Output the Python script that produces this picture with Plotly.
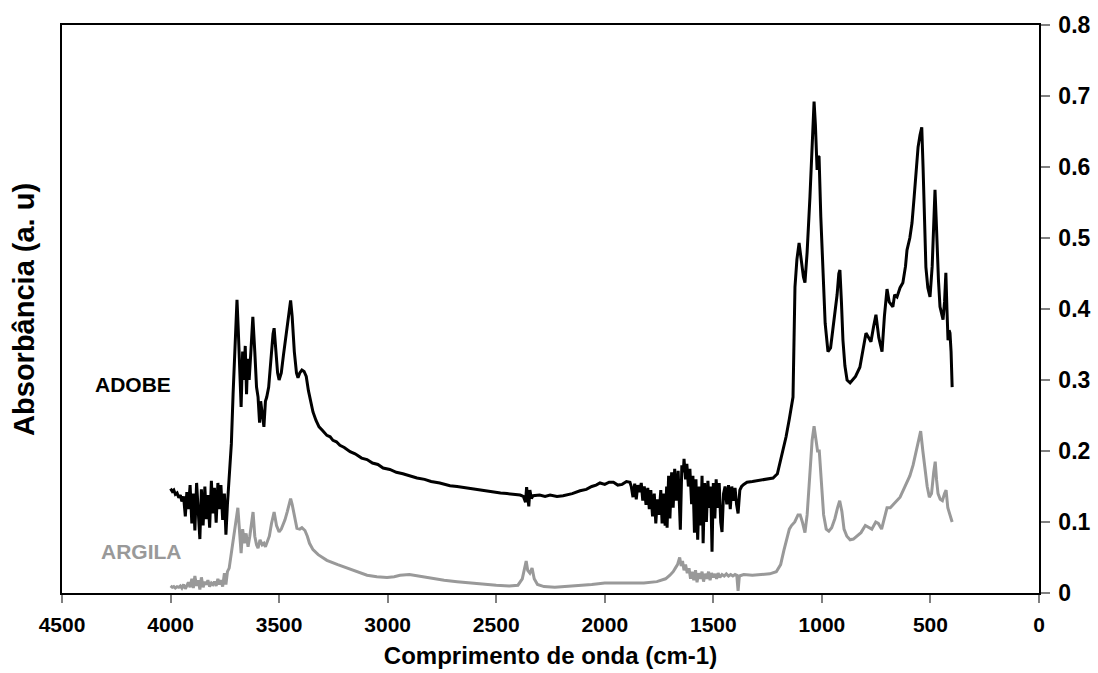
import plotly.graph_objects as go

# FTIR spectra: ADOBE (black) and ARGILA (grey), wavenumber in cm-1
adobe_wn = [
    4000, 3992, 3985, 3978, 3970, 3962, 3955, 3948, 3940, 3932, 3925, 3918, 3910, 3902,
    3895, 3888, 3880, 3872, 3865, 3858, 3850, 3842, 3835, 3828, 3820, 3812, 3805, 3798,
    3790, 3782, 3775, 3768, 3760, 3752, 3745, 3738,
    3730, 3720, 3712, 3705, 3698, 3694, 3688, 3680, 3675, 3668, 3662, 3656, 3650, 3645,
    3638, 3630, 3621, 3612, 3604, 3597, 3590, 3585, 3578, 3570, 3563, 3557, 3548, 3538,
    3528, 3523, 3515, 3507, 3500, 3490, 3480, 3473, 3462, 3452, 3447, 3440, 3430, 3420,
    3413, 3405, 3395, 3385, 3375, 3365, 3355, 3344, 3330, 3316, 3300, 3280, 3265, 3252,
    3236, 3220, 3200, 3173, 3150, 3120, 3095, 3070, 3045, 3021, 2990, 2960, 2930, 2900,
    2865, 2830, 2800, 2760, 2713, 2680, 2640, 2600, 2561, 2520, 2480, 2450, 2420, 2390,
    2375, 2365, 2360, 2355, 2350, 2345, 2338, 2330, 2300, 2275, 2252, 2220, 2192, 2150,
    2114, 2085, 2060, 2040, 2022, 2000, 1980, 1960, 1940, 1920, 1900, 1884,
    1878, 1870, 1862, 1855, 1848, 1840, 1832, 1825, 1818, 1810, 1802, 1795, 1788, 1780,
    1772, 1765, 1758, 1750, 1742, 1736, 1730, 1722, 1715, 1713, 1706, 1700, 1692, 1685,
    1678, 1670, 1662, 1652, 1645, 1638, 1635, 1628, 1622, 1615, 1608, 1600, 1594, 1587,
    1580, 1572, 1565, 1558, 1552, 1547, 1540, 1532, 1525, 1518, 1512, 1506, 1500, 1493,
    1487, 1480, 1473, 1466, 1460, 1453, 1446, 1438, 1430, 1422, 1415, 1408, 1400, 1393,
    1386, 1378, 1370, 1360, 1345, 1320, 1300, 1280, 1260, 1240, 1225, 1205, 1193, 1180,
    1165, 1150, 1140,
    1133, 1124, 1115, 1105, 1095, 1085, 1078, 1068, 1055, 1045, 1036, 1030, 1022, 1017,
    1013, 1005, 995, 985, 972, 960, 950, 940, 930, 922, 917, 910, 903, 894, 884, 870,
    857, 845, 825, 810, 797, 785, 774, 762, 751, 738, 723, 712, 700, 690, 680, 673, 665,
    654, 640, 627, 615, 608, 595, 585, 575, 565, 557, 548, 540, 534, 528, 521, 512, 502,
    492, 485, 479, 474, 470, 463, 456, 448, 442, 435, 429, 424, 419, 414, 410, 405, 400,
]
adobe_abs = [
    0.147, 0.143, 0.145, 0.139, 0.141, 0.134, 0.138, 0.129, 0.136, 0.108, 0.142, 0.118, 0.152, 0.098,
    0.140, 0.088, 0.155, 0.112, 0.076, 0.146, 0.095, 0.150, 0.104, 0.138, 0.092, 0.158, 0.112, 0.148,
    0.099, 0.155, 0.118, 0.152, 0.103, 0.140, 0.082, 0.125,
    0.170, 0.210, 0.280, 0.340, 0.400, 0.413, 0.370, 0.300, 0.262, 0.340, 0.300, 0.348, 0.280, 0.330,
    0.300, 0.340, 0.389, 0.340, 0.290, 0.276, 0.240, 0.270, 0.250, 0.234, 0.270, 0.276, 0.290, 0.330,
    0.365, 0.373, 0.340, 0.310, 0.300, 0.310, 0.335, 0.353, 0.375, 0.405, 0.412, 0.390, 0.340, 0.310,
    0.303, 0.310, 0.314, 0.312, 0.305, 0.285, 0.268, 0.255, 0.243, 0.234, 0.229, 0.222, 0.220, 0.215,
    0.213, 0.208, 0.205, 0.199, 0.196, 0.190, 0.188, 0.183, 0.181, 0.176, 0.174, 0.170, 0.168, 0.165,
    0.162, 0.160, 0.157, 0.155, 0.151, 0.150, 0.148, 0.146, 0.144, 0.143, 0.141, 0.140, 0.139, 0.138,
    0.136, 0.128, 0.149, 0.131, 0.122, 0.145, 0.133, 0.137, 0.138, 0.136, 0.138, 0.136, 0.137, 0.140,
    0.144, 0.146, 0.150, 0.152, 0.155, 0.153, 0.156, 0.156, 0.152, 0.153, 0.157, 0.156,
    0.150, 0.135, 0.154, 0.132, 0.152, 0.142, 0.155, 0.130, 0.150, 0.124, 0.148, 0.118, 0.145, 0.108,
    0.140, 0.098, 0.132, 0.110, 0.145, 0.098, 0.140, 0.095, 0.150, 0.092, 0.165, 0.105, 0.170, 0.120,
    0.175, 0.130, 0.172, 0.089, 0.180, 0.170, 0.189, 0.160, 0.182, 0.150, 0.175, 0.125, 0.165, 0.085,
    0.160, 0.075, 0.150, 0.095, 0.165, 0.070, 0.155, 0.100, 0.158, 0.120, 0.150, 0.058, 0.155, 0.105,
    0.160, 0.120, 0.155, 0.100, 0.086, 0.140, 0.150, 0.125, 0.152, 0.118, 0.150, 0.130, 0.148, 0.125,
    0.112, 0.145, 0.150, 0.153, 0.156, 0.157, 0.158, 0.159, 0.160, 0.161, 0.162, 0.168, 0.183, 0.200,
    0.220, 0.245, 0.265,
    0.276, 0.431, 0.470, 0.493, 0.470, 0.445, 0.437, 0.480, 0.558, 0.640, 0.692, 0.660, 0.596, 0.615,
    0.614, 0.530, 0.440, 0.380, 0.340, 0.345, 0.370, 0.394, 0.420, 0.450, 0.455, 0.410, 0.356, 0.320, 0.300, 0.296,
    0.300, 0.305, 0.318, 0.345, 0.366, 0.360, 0.354, 0.375, 0.392, 0.360, 0.340, 0.390, 0.428, 0.410, 0.405, 0.403, 0.420,
    0.417, 0.430, 0.437, 0.460, 0.483, 0.500, 0.521, 0.558, 0.600, 0.628, 0.645, 0.656, 0.600, 0.520, 0.459, 0.430, 0.417,
    0.460, 0.530, 0.568, 0.530, 0.488, 0.440, 0.403, 0.390, 0.385, 0.410, 0.451, 0.400, 0.356, 0.370, 0.366, 0.340, 0.290,
]

argila_wn = [
    4000, 3992, 3985, 3978, 3970, 3962, 3955, 3948, 3940, 3932, 3925, 3918, 3910, 3902,
    3895, 3888, 3880, 3872, 3865, 3858, 3850, 3842, 3835, 3828, 3820, 3812, 3805, 3798,
    3790, 3782, 3775, 3768, 3760, 3752, 3745, 3738,
    3730, 3720, 3710, 3700, 3690, 3683, 3675, 3668, 3660, 3652, 3643, 3635, 3628, 3620,
    3612, 3604, 3597, 3588, 3578, 3570, 3563, 3556, 3545, 3535, 3523, 3512, 3500, 3490,
    3480, 3473, 3462, 3452, 3447, 3440, 3430, 3418, 3405, 3395, 3381, 3370, 3360, 3344,
    3320, 3280, 3230, 3187, 3140, 3095, 3050, 3003, 2970, 2943, 2900, 2860, 2800, 2740,
    2680, 2620, 2560, 2500, 2440, 2400, 2380, 2370, 2362, 2355, 2345, 2335, 2325, 2310,
    2280, 2230, 2180, 2120, 2060, 2000, 1940, 1880, 1820, 1760, 1720, 1700, 1685, 1675,
    1665, 1655, 1648, 1642, 1635, 1628, 1620, 1612, 1605, 1598, 1590, 1582, 1575, 1568,
    1560, 1552, 1545, 1538, 1530, 1522, 1515, 1508, 1500, 1492, 1485, 1478, 1470, 1460,
    1450, 1440, 1430, 1420, 1410, 1400, 1392, 1386, 1380, 1360, 1320, 1280, 1240, 1210,
    1190, 1175, 1160, 1150, 1140, 1125, 1110, 1100, 1090, 1078, 1068, 1055, 1045, 1036,
    1028, 1020, 1012, 1002, 992, 980, 968, 955, 940, 928, 918, 908, 898, 885, 870, 855,
    840, 820, 800, 785, 770, 752, 740, 725, 712, 700, 685, 670, 655, 640, 625, 610, 595,
    580, 565, 552, 545, 535, 525, 515, 505, 495, 485, 478, 472, 465, 455, 445, 435, 428,
    420, 412, 405, 400,
]
argila_abs = [
    0.010, 0.008, 0.009, 0.007, 0.009, 0.008, 0.010, 0.007, 0.012, 0.006, 0.010, 0.015, 0.008, 0.020,
    0.007, 0.024, 0.010, 0.018, 0.005, 0.022, 0.008, 0.016, 0.012, 0.018, 0.009, 0.014, 0.012, 0.016,
    0.010, 0.020, 0.012, 0.018, 0.009, 0.028, 0.012, 0.030,
    0.035, 0.055, 0.075, 0.100, 0.120, 0.090, 0.056, 0.090, 0.070, 0.084, 0.065, 0.080, 0.095, 0.114,
    0.080, 0.068, 0.063, 0.075, 0.068, 0.070, 0.065, 0.072, 0.080, 0.098, 0.114, 0.095, 0.086, 0.090,
    0.098, 0.103, 0.115, 0.128, 0.133, 0.125, 0.110, 0.091, 0.090, 0.092, 0.088, 0.080, 0.070, 0.061,
    0.054, 0.046, 0.040, 0.035, 0.030, 0.025, 0.023, 0.022, 0.023, 0.025, 0.026, 0.024, 0.020, 0.018,
    0.016, 0.014, 0.012, 0.011, 0.010, 0.011, 0.020, 0.035, 0.045, 0.032, 0.028, 0.035, 0.020, 0.012,
    0.009, 0.008, 0.009, 0.010, 0.012, 0.014, 0.014, 0.013, 0.014, 0.016, 0.020, 0.025, 0.030, 0.035,
    0.040, 0.050, 0.038, 0.045, 0.032, 0.040, 0.028, 0.035, 0.020, 0.030, 0.018, 0.032, 0.015, 0.028,
    0.020, 0.030, 0.016, 0.027, 0.020, 0.030, 0.018, 0.028, 0.022, 0.027, 0.020, 0.028, 0.022, 0.026,
    0.024, 0.027, 0.024, 0.026, 0.024, 0.026, 0.025, 0.003, 0.024, 0.026, 0.025, 0.026, 0.027, 0.030,
    0.040, 0.060, 0.080, 0.090, 0.095, 0.100, 0.110, 0.110, 0.100, 0.085, 0.110, 0.170, 0.215, 0.235,
    0.220, 0.200, 0.200, 0.160, 0.110, 0.090, 0.087, 0.092, 0.105, 0.120, 0.130, 0.115, 0.090, 0.080, 0.075, 0.076,
    0.080, 0.085, 0.095, 0.093, 0.090, 0.100, 0.098, 0.090, 0.105, 0.120, 0.120, 0.125, 0.130, 0.135, 0.145, 0.155, 0.165,
    0.180, 0.200, 0.222, 0.228, 0.200, 0.170, 0.150, 0.135, 0.140, 0.170, 0.185, 0.160, 0.140, 0.132, 0.130, 0.140, 0.145,
    0.120, 0.110, 0.105, 0.100,
]

x_ticks = [4500, 4000, 3500, 3000, 2500, 2000, 1500, 1000, 500, 0]
y_ticks = [0, 0.1, 0.2, 0.3, 0.4, 0.5, 0.6, 0.7, 0.8]

FONT = "Liberation Sans, Arial, sans-serif"

fig = go.Figure()
fig.add_trace(go.Scatter(x=argila_wn, y=argila_abs, mode="lines", name="ARGILA",
                         line=dict(color="#999999", width=3)))
fig.add_trace(go.Scatter(x=adobe_wn, y=adobe_abs, mode="lines", name="ADOBE",
                         line=dict(color="#000000", width=3)))

fig.add_annotation(x=4173, y=0.293, text="<b>ADOBE</b>", showarrow=False,
                   font=dict(family=FONT, size=21, color="#000000"))
fig.add_annotation(x=4136, y=0.059, text="<b>ARGILA</b>", showarrow=False,
                   font=dict(family=FONT, size=21, color="#999999"))
fig.add_annotation(xref="paper", yref="paper", x=-0.039, y=0.5, xanchor="center",
                   yanchor="middle", textangle=-90, showarrow=False,
                   text="<b>Absorbância (a. u)</b>",
                   font=dict(family=FONT, size=29, color="#000000"))

fig.update_layout(
    width=1098, height=673,
    margin=dict(l=62, r=59, t=25, b=80),
    paper_bgcolor="white", plot_bgcolor="white",
    showlegend=False,
    font=dict(family=FONT, color="#000000"),
)
fig.update_xaxes(
    range=[4500, 0], tickvals=x_ticks, ticktext=[f"<b>{v}</b>" for v in x_ticks],
    tickfont=dict(family=FONT, size=21, color="#000000"),
    ticks="outside", ticklen=8, tickcolor="#808080", tickwidth=1.5,
    ticklabelstandoff=4, automargin=False,
    showline=True, linecolor="#000000", linewidth=2, mirror=True,
    showgrid=False, zeroline=False,
    title=dict(text="<b>Comprimento de onda (cm-1)</b>",
               font=dict(family=FONT, size=24, color="#000000"), standoff=12),
)
fig.update_yaxes(
    range=[0, 0.8], side="right", tickvals=y_ticks,
    ticktext=[f"<b>{v:g}</b>" for v in y_ticks],
    tickfont=dict(family=FONT, size=23, color="#000000"),
    ticks="outside", ticklen=9, tickcolor="#808080", tickwidth=1.5,
    ticklabelstandoff=4, automargin=False,
    showline=True, linecolor="#000000", linewidth=1.5, mirror=True,
    showgrid=False, zeroline=False,
)

fig.write_html("out.html")
